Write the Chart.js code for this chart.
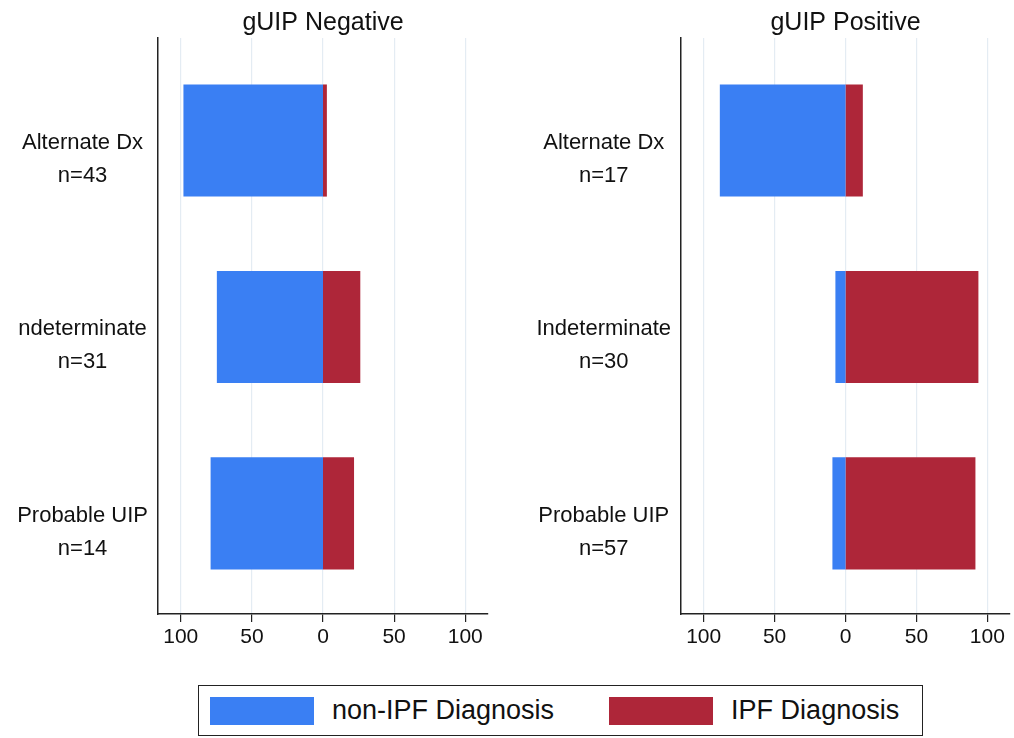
<!DOCTYPE html>
<html>
<head>
<meta charset="utf-8">
<script src="https://cdn.jsdelivr.net/npm/chart.js@4/dist/chart.umd.min.js"></script>
<style>
  body { margin: 0; background: #fff; font-family: "Liberation Sans", Arial, sans-serif; }
  #wrap { position: relative; width: 1014px; height: 738px; }
  #negWrap { position: absolute; left: 0; top: 0; width: 500px; height: 665px; }
  #posWrap { position: absolute; left: 500px; top: 0; width: 514px; height: 665px; }
  #legend {
    position: absolute; left: 198px; top: 685px; width: 725px; height: 51px;
    border: 1.5px solid #222; box-sizing: border-box;
    display: flex; align-items: center; font-size: 27px; color: #111;
  }
  .sw { width: 104px; height: 28px; margin-left: 11px; margin-right: 18px; flex: none; }
  .sw2 { margin-left: 55px; }
</style>
</head>
<body>
<div id="wrap">
  <div id="negWrap"><canvas id="negChart"></canvas></div>
  <div id="posWrap"><canvas id="posChart"></canvas></div>
  <div id="legend"></div>
</div>
<script>
//Categories per panel (two-line labels)
const negLabels = [["Alternate Dx", "n=43"], ["ndeterminate", "n=31"], ["Probable UIP", "n=14"]];
const posLabels = [["Alternate Dx", "n=17"], ["Indeterminate", "n=30"], ["Probable UIP", "n=57"]];

//Percent of each group
const negNonIpf = [97.7, 74.2, 78.6];
const negIpf = [2.3, 25.8, 21.4];
const posNonIpf = [88.2, 6.7, 8.8];
const posIpf = [11.8, 93.3, 91.2];

const xTicks = [-100, -50, 0, 50, 100];
const seriesNames = ["non-IPF Diagnosis", "IPF Diagnosis"];

const BLUE = "#3a7ff3";
const RED = "#ae2639";
const FONT = "'Liberation Sans', Arial, sans-serif";

function makePanel(canvas, title, labels, nonIpf, ipf, yWidth, padLeft, padRight) {
  new Chart(canvas, {
    type: "bar",
    data: {
      labels: labels,
      datasets: [
        { label: seriesNames[0], data: nonIpf.map((v) => -v), backgroundColor: BLUE },
        { label: seriesNames[1], data: ipf, backgroundColor: RED },
      ],
    },
    options: {
      indexAxis: "y",
      responsive: false,
      animation: false,
      layout: { padding: { left: padLeft, right: padRight, top: 0, bottom: 0 } },
      datasets: { bar: { categoryPercentage: 1, barPercentage: 0.595, inflateAmount: 0.6 } },
      plugins: {
        legend: { display: false },
        tooltip: { enabled: false },
        title: {
          display: true,
          text: title,
          fullSize: false,
          color: "#111",
          font: { family: FONT, size: 25, weight: "normal", lineHeight: 1.2 },
          padding: { top: 8, bottom: 0 },
        },
      },
      scales: {
        x: {
          stacked: true,
          min: -116,
          max: 116,
          afterBuildTicks: (s) => { s.ticks = xTicks.map((v) => ({ value: v })); },
          afterFit: (s) => { s.height = 51; },
          grid: { color: "#e4ecf3", lineWidth: 1.2, tickColor: "#222", tickLength: 8 },
          border: { display: true, color: "#222", width: 1.5 },
          ticks: {
            color: "#111",
            padding: 3,
            font: { family: FONT, size: 21 },
            callback: (v) => Math.abs(v),
          },
        },
        y: {
          stacked: true,
          // a bit of extra room at both ends of the category band
          afterBuildTicks: (s) => { s._startValue = -0.55; s._valueRange = 3.09; },
          afterFit: (s) => {
            s.width = yWidth;
            s.paddingTop = 0;
            s.paddingBottom = 0;
          },
          grid: { display: false, drawTicks: false },
          border: { display: true, color: "#222", width: 1.5 },
          ticks: {
            color: "#111",
            padding: 10,
            crossAlign: "center",
            labelOffset: 19,
            font: { family: FONT, size: 22, lineHeight: 1.5 },
          },
        },
      },
    },
  });
}

function sizeCanvas(id, w, h) {
  const c = document.getElementById(id);
  c.width = w; c.height = h;
  c.style.width = w + "px"; c.style.height = h + "px";
  return c;
}

makePanel(sizeCanvas("negChart", 500, 665), "gUIP Negative", negLabels, negNonIpf, negIpf, 152, 6, 12);
makePanel(sizeCanvas("posChart", 514, 665), "gUIP Positive", posLabels, posNonIpf, posIpf, 155, 26, 4);

//Legend box below both panels
const legend = document.getElementById("legend");
[BLUE, RED].forEach((col, i) => {
  const sw = document.createElement("div");
  sw.className = "sw" + (i ? " sw2" : "");
  sw.style.background = col;
  const tx = document.createElement("span");
  tx.textContent = seriesNames[i];
  legend.appendChild(sw);
  legend.appendChild(tx);
});
</script>
</body>
</html>
